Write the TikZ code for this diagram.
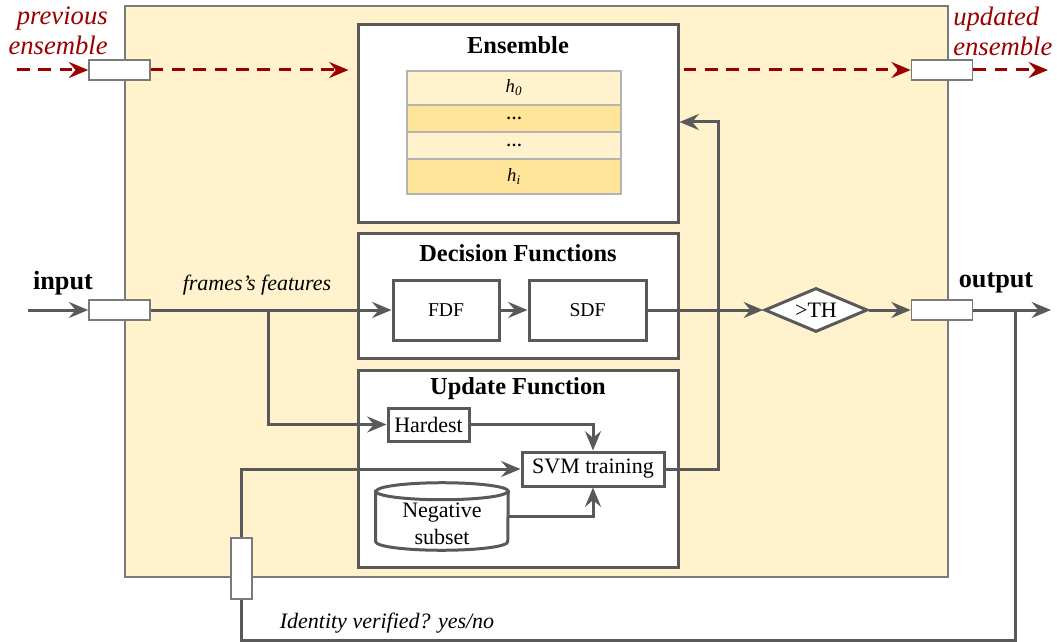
\documentclass[tikz,border=0pt]{standalone}
\usepackage{fontspec}
\setmainfont{Liberation Serif}
\usetikzlibrary{arrows.meta,shapes.geometric}

\definecolor{ln}{HTML}{595959}
\definecolor{edgegray}{HTML}{7A7A7A}
\definecolor{paleyel}{HTML}{FFF2CC}
\definecolor{yel}{HTML}{FFE599}
\definecolor{cellgray}{HTML}{B3B3B3}
\definecolor{darkred}{HTML}{990000}

\tikzset{
  tip/.tip={Stealth[length=14.5pt,width=12pt,inset=5pt]},
  box/.style={draw=ln, line width=2.25pt, fill=white, inner sep=0pt},
  port/.style={draw=edgegray, line width=1.2pt, fill=white, inner sep=0pt,
    minimum width=45.75pt, minimum height=15pt},
  vport/.style={port, minimum width=15.75pt, minimum height=45.75pt},
  cell/.style={draw=cellgray, line width=1.1pt, inner sep=0pt, minimum width=160.5pt},
  wire/.style={draw=ln, line width=2.25pt},
  flow/.style={wire, -tip},
  redflow/.style={draw=darkred, line width=2.25pt, dash pattern=on 9.5pt off 6.5pt, -tip},
  title/.style={font=\fontsize{18.3}{21}\selectfont\bfseries},
  txt/.style={font=\fontsize{16.5}{19}\selectfont},
  small/.style={font=\fontsize{14.7}{17}\selectfont},
  redlbl/.style={font=\fontsize{20}{22.5}\selectfont\itshape, text=darkred},
  iolbl/.style={font=\fontsize{19.7}{22}\selectfont\bfseries},
}

\begin{document}
\begin{tikzpicture}[x=0.75pt,y=-0.75pt]
\useasboundingbox (0,0) rectangle (1057,642);

% system frame
\draw[draw=edgegray, line width=1.2pt, fill=paleyel] (125,6) rectangle (948,577);

% ensemble block
\node[box, minimum width=240pt, minimum height=147.75pt] (ens) at (518,123.5) {};
\node[title] (enst) at (518,45) {Ensemble};
\node[cell, fill=paleyel, minimum height=25.7pt] (r0) at (514,88) {\fontsize{14}{16}\selectfont\textit{h\textsubscript{0}}};
\node[cell, fill=yel, minimum height=20.25pt] (r1) at (514,118.5) {\fontsize{12}{14}\selectfont\textbf{…}};
\node[cell, fill=paleyel, minimum height=20.25pt] (r2) at (514,145.5) {\fontsize{12}{14}\selectfont\textbf{…}};
\node[cell, fill=yel, minimum height=26pt] (r3) at (514,176.5) {\fontsize{14}{16}\selectfont\textit{h\textsubscript{i}}};

% decision block
\node[box, minimum width=240pt, minimum height=93.75pt] (dec) at (518,295.5) {};
\node[title] (dect) at (518,253) {Decision Functions};
\node[box, small, minimum width=79.5pt, minimum height=45pt] (fdf) at (446,310) {FDF};
\node[box, small, minimum width=87.75pt, minimum height=45pt] (sdf) at (587.5,310) {SDF};

% update block
\node[box, minimum width=240pt, minimum height=147.75pt] (upd) at (518,468.5) {};
\node[title] (updt) at (518,389) {Update Function};
\node[box, txt, minimum width=60.75pt, minimum height=24.75pt] (hard) at (428.5,424.5) {Hardest};
\node[box, txt, minimum width=106.5pt, minimum height=25.5pt] (svm) at (593,469) {SVM training};
% database cylinder drawn around an empty anchor node
\node[inner sep=0pt, minimum width=99pt, minimum height=50.25pt] (neg) at (442,516.5) {};
\draw[wire, fill=white]
  (neg.north west) ++(0,8.5) -- ([yshift=6.375pt]neg.south west)
  arc[start angle=180, end angle=360, x radius=49.5pt, y radius=6.375pt]
  -- ([yshift=-6.375pt]neg.north east)
  arc[start angle=0, end angle=180, x radius=49.5pt, y radius=6.375pt] -- cycle;
\draw[wire] ([yshift=-6.375pt]neg.north west)
  arc[start angle=180, end angle=360, x radius=49.5pt, y radius=6.375pt];
\node[txt, align=center, inner sep=0pt] (negt) at (442,523.5) {Negative\\[1pt]subset};

% threshold
\node[draw=ln, line width=2.25pt, fill=white, shape=diamond, aspect=2.34,
  inner sep=0pt, minimum width=77.25pt, minimum height=33pt, txt] (th) at (816,310) {>TH};

% ports
\node[port] (lp) at (119.5,70) {};
\node[port] (rp) at (942,70) {};
\node[port] (inp) at (119.5,310) {};
\node[port] (outp) at (942,310) {};
\node[vport] (idp) at (241.5,568.5) {};

% labels
\node[redlbl, align=right, anchor=east, inner sep=0pt] (prevl) at (108,31) {previous\\ensemble};
\node[redlbl, align=left, anchor=west, inner sep=0pt] (updl) at (953,31) {updated\\ensemble};
\node[iolbl] (inl) at (63,283) {input};
\node[iolbl] (outl) at (996,283) {output};
\node[font=\fontsize{16.5}{19}\selectfont\itshape] (ffl) at (257,285) {frames’s features};
\node[font=\fontsize{16.5}{19}\selectfont\itshape] (idl) at (387,623) {Identity verified? yes/no};

% free ends and corners
\coordinate (prevsrc) at (17,70);
\coordinate (updsink) at (1048,70);
\coordinate (insrc) at (28,310);
\coordinate (outsink) at (1051,310);
\coordinate (branch) at (268,310);
\coordinate (fb) at (1015,310);
\coordinate (fbcorner) at (1015,640);
\coordinate (retop) at (718,122);

% ensemble hand-over
\draw[redflow] (prevsrc) -- (lp.west);
\draw[redflow, shorten >=6pt] (lp.east) -- (lp.east -| ens.west);
\draw[redflow, shorten <=3pt] (ens.east |- rp.west) -- (rp.west);
\draw[redflow] (rp.east) -- (updsink);

% main data path
\draw[flow] (insrc) -- (inp.west);
\draw[flow] (inp.east) -- (fdf.west);
\draw[flow] (fdf.east) -- (sdf.west);
\draw[flow] (sdf.east) -- (th.west);
\draw[flow] (th.east) -- (outp.west);
\draw[flow] (outp.east) -- (outsink);

% update path
\draw[flow] (branch) |- (hard.west);
\draw[flow] (hard.east) -| (svm.north);
\draw[flow] (neg.east) -| (svm.south);
\draw[flow] (svm.east) -| (retop) -- (retop -| ens.east);

% verification feedback
\draw[wire] (fb) -- (fbcorner) -| (idp.south);
\draw[flow] (idp.north) |- (svm.west);
\end{tikzpicture}
\end{document}
